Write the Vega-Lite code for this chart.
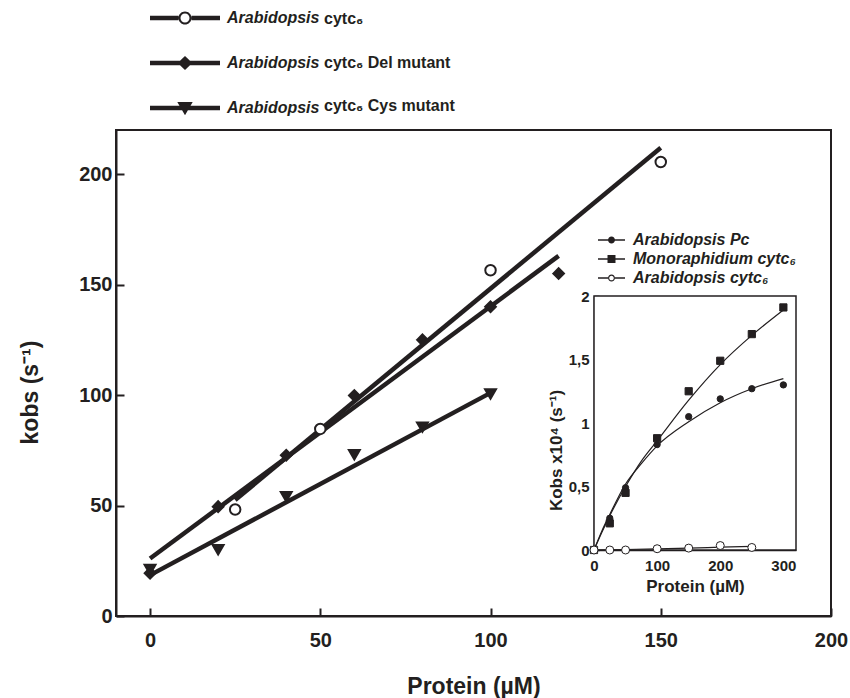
{
  "$schema": "https://vega.github.io/schema/vega-lite/v6.json",
  "width": 715,
  "height": 486,
  "autosize": {"type": "none"},
  "padding": {"left": 116, "top": 130, "right": 19, "bottom": 82},
  "background": "white",
  "config": {
    "font": "Liberation Sans",
    "view": {"stroke": "#231f20", "strokeWidth": 2},
    "axis": {"grid": false, "domainColor": "#231f20", "tickColor": "#231f20", "labelColor": "#231f20", "titleColor": "#231f20", "labelFont": "Liberation Sans", "titleFont": "Liberation Sans", "labelFontWeight": "bold", "titleFontWeight": "bold", "labelFlush": false, "labelOverlap": false},
    "legend": {"labelFont": "Liberation Sans", "labelFontWeight": "bold", "labelFontStyle": "italic", "labelColor": "#231f20", "labelLimit": 500}
  },
  "datasets": {
    "mainFit": [
      {"series": "Arabidopsis cytc6", "x": 25, "y": 52.5},
      {"series": "Arabidopsis cytc6", "x": 150, "y": 212},
      {"series": "Del mutant", "x": 0, "y": 26},
      {"series": "Del mutant", "x": 120, "y": 163},
      {"series": "Cys mutant", "x": 0, "y": 18.5},
      {"series": "Cys mutant", "x": 100, "y": 101}
    ],
    "mainPts": [
      {"series": "Arabidopsis cytc6", "x": 25, "y": 48.2},
      {"series": "Arabidopsis cytc6", "x": 50, "y": 84.7},
      {"series": "Arabidopsis cytc6", "x": 100, "y": 156.5},
      {"series": "Arabidopsis cytc6", "x": 150, "y": 205.5},
      {"series": "Del mutant", "x": 0, "y": 19.4},
      {"series": "Del mutant", "x": 20, "y": 49.5},
      {"series": "Del mutant", "x": 40, "y": 72.8},
      {"series": "Del mutant", "x": 60, "y": 99.8},
      {"series": "Del mutant", "x": 80, "y": 125},
      {"series": "Del mutant", "x": 100, "y": 140},
      {"series": "Del mutant", "x": 120, "y": 155},
      {"series": "Cys mutant", "x": 0, "y": 21},
      {"series": "Cys mutant", "x": 20, "y": 30},
      {"series": "Cys mutant", "x": 40, "y": 54},
      {"series": "Cys mutant", "x": 60, "y": 73},
      {"series": "Cys mutant", "x": 80, "y": 85.5},
      {"series": "Cys mutant", "x": 100, "y": 100.5}
    ],
    "mainLeg": [
      {"label": "Arabidopsis cytc₆"},
      {"label": "Arabidopsis cytc₆ Del mutant"},
      {"label": "Arabidopsis cytc₆ Cys mutant"}
    ],
    "insetBox": [
      {"x1": 0, "x2": 320, "y1": 0, "y2": 2}
    ],
    "insetFit": [
      {"series": "Pc", "x": 0, "y": 0},
      {"series": "Pc", "x": 12.5, "y": 0.15},
      {"series": "Pc", "x": 25, "y": 0.28},
      {"series": "Pc", "x": 50, "y": 0.52},
      {"series": "Pc", "x": 75, "y": 0.68},
      {"series": "Pc", "x": 100, "y": 0.82},
      {"series": "Pc", "x": 150, "y": 1.01},
      {"series": "Pc", "x": 200, "y": 1.16},
      {"series": "Pc", "x": 250, "y": 1.27},
      {"series": "Pc", "x": 300, "y": 1.35},
      {"series": "Mono", "x": 0, "y": 0},
      {"series": "Mono", "x": 12.5, "y": 0.14},
      {"series": "Mono", "x": 25, "y": 0.27},
      {"series": "Mono", "x": 50, "y": 0.5},
      {"series": "Mono", "x": 75, "y": 0.7},
      {"series": "Mono", "x": 100, "y": 0.86},
      {"series": "Mono", "x": 150, "y": 1.18},
      {"series": "Mono", "x": 200, "y": 1.46},
      {"series": "Mono", "x": 250, "y": 1.69},
      {"series": "Mono", "x": 300, "y": 1.89},
      {"series": "Cyt", "x": 0, "y": 0},
      {"series": "Cyt", "x": 50, "y": 0.004},
      {"series": "Cyt", "x": 100, "y": 0.009},
      {"series": "Cyt", "x": 150, "y": 0.015},
      {"series": "Cyt", "x": 200, "y": 0.022},
      {"series": "Cyt", "x": 250, "y": 0.028}
    ],
    "insetPts": [
      {"series": "Pc", "x": 0, "y": 0},
      {"series": "Pc", "x": 25, "y": 0.25},
      {"series": "Pc", "x": 50, "y": 0.49},
      {"series": "Pc", "x": 100, "y": 0.83},
      {"series": "Pc", "x": 150, "y": 1.05},
      {"series": "Pc", "x": 200, "y": 1.19},
      {"series": "Pc", "x": 250, "y": 1.27},
      {"series": "Pc", "x": 300, "y": 1.3},
      {"series": "Mono", "x": 0, "y": 0},
      {"series": "Mono", "x": 25, "y": 0.21},
      {"series": "Mono", "x": 50, "y": 0.45},
      {"series": "Mono", "x": 100, "y": 0.88},
      {"series": "Mono", "x": 150, "y": 1.25},
      {"series": "Mono", "x": 200, "y": 1.49},
      {"series": "Mono", "x": 250, "y": 1.7},
      {"series": "Mono", "x": 300, "y": 1.91},
      {"series": "Cyt", "x": 0, "y": 0},
      {"series": "Cyt", "x": 25, "y": 0.0},
      {"series": "Cyt", "x": 50, "y": 0.0},
      {"series": "Cyt", "x": 100, "y": 0.01},
      {"series": "Cyt", "x": 150, "y": 0.015},
      {"series": "Cyt", "x": 200, "y": 0.035},
      {"series": "Cyt", "x": 250, "y": 0.02}
    ],
    "insetLeg": [
      {"label": "Arabidopsis Pc"},
      {"label": "Monoraphidium cytc₆"},
      {"label": "Arabidopsis cytc₆"}
    ]
  },
  "layer": [
    {
      "layer": [
        {
          "data": {"name": "mainFit"},
          "mark": {"type": "line", "color": "#231f20", "strokeWidth": 4.5, "strokeCap": "butt"},
          "encoding": {
            "x": {"field": "x", "type": "quantitative", "title": "Protein (µM)",
              "scale": {"domain": [-10, 200], "nice": false, "zero": false},
              "axis": {"orient": "bottom", "values": [0, 50, 100, 150, 200], "tickSize": -8, "tickWidth": 2, "domainWidth": 2, "labelFontSize": 20, "labelPadding": 22, "titleFontSize": 23, "titleY": 77, "titleBaseline": "alphabetic"}},
            "y": {"field": "y", "type": "quantitative", "title": "kobs (s⁻¹)",
              "scale": {"domain": [0, 220], "nice": false, "zero": false},
              "axis": {"orient": "left", "values": [0, 50, 100, 150, 200], "tickSize": -8, "tickWidth": 2, "domainWidth": 2, "labelFontSize": 20, "labelPadding": 12, "titleFontSize": 23, "titleX": -74, "titleY": 262, "titleBaseline": "bottom"}},
            "detail": {"field": "series"}
          }
        },
        {
          "data": {"name": "mainPts"},
          "mark": {"type": "point", "stroke": "#231f20", "strokeWidth": 2, "opacity": 1},
          "encoding": {
            "x": {"field": "x", "type": "quantitative", "title": "Protein (µM)"},
            "y": {"field": "y", "type": "quantitative", "title": "kobs (s⁻¹)"},
            "shape": {"field": "series", "type": "nominal", "legend": null,
              "scale": {"domain": ["Arabidopsis cytc6", "Del mutant", "Cys mutant"], "range": ["circle", "diamond", "triangle-down"]}},
            "fill": {"field": "series", "type": "nominal", "legend": null,
              "scale": {"domain": ["Arabidopsis cytc6", "Del mutant", "Cys mutant"], "range": ["white", "#231f20", "#231f20"]}},
            "size": {"field": "series", "type": "nominal", "legend": null,
              "scale": {"domain": ["Arabidopsis cytc6", "Del mutant", "Cys mutant"], "range": [110, 120, 170]}}
          }
        },
        {
          "data": {"name": "mainLeg"},
          "mark": {"type": "point", "filled": true, "fill": "#231f20", "strokeWidth": 0, "opacity": 0},
          "encoding": {
            "shape": {"field": "label", "type": "nominal",
              "scale": {"domain": ["Arabidopsis cytc₆", "Arabidopsis cytc₆ Del mutant", "Arabidopsis cytc₆ Cys mutant"],
                "range": [
                  "M-1,-0.063L-0.186,-0.063L-0.186,0.063L-1,0.063Z M0.186,-0.063L1,-0.063L1,0.063L0.186,0.063Z M0.186,0A0.186,0.186 0 1,1 -0.186,0A0.186,0.186 0 1,1 0.186,0Z M0.129,0A0.129,0.129 0 1,0 -0.129,0A0.129,0.129 0 1,0 0.129,0Z",
                  "M-1,-0.063L1,-0.063L1,0.063L-1,0.063Z M-0.21,0L0,-0.2L0.21,0L0,0.2Z",
                  "M-1,-0.063L1,-0.063L1,0.063L-1,0.063Z M-0.22,-0.17L0.22,-0.17L0,0.21Z"
                ]},
              "legend": {"orient": "none", "legendX": 34, "legendY": -147, "title": null, "symbolSize": 4900, "symbolStrokeWidth": 0, "symbolOpacity": 1, "symbolFillColor": "#231f20", "labelFontSize": 16, "labelOffset": 7, "rowPadding": 2, "padding": 0, "symbolOffset": 0, "labelExpr": "'Arabidopsis'"}}
          }
        },
        {
          "data": {"name": "mainLeg"},
          "mark": {"type": "point", "opacity": 0},
          "encoding": {
            "size": {"field": "label", "type": "nominal",
              "scale": {"domain": ["Arabidopsis cytc₆", "Arabidopsis cytc₆ Del mutant", "Arabidopsis cytc₆ Cys mutant"], "range": [1, 1, 1]},
              "legend": {"orient": "none", "legendX": 192, "legendY": -119, "title": null, "symbolOpacity": 0, "symbolStrokeWidth": 0, "labelFontSize": 16, "labelFontStyle": "normal", "labelOffset": 0, "rowPadding": 27.5, "padding": 0, "symbolOffset": 0, "labelExpr": "replace(datum.label, 'Arabidopsis ', '')"}}
          }
        }
      ],
      "resolve": {"scale": {"shape": "independent", "fill": "independent", "size": "independent"}, "legend": {"shape": "independent", "size": "independent"}}
    },
    {
      "layer": [
        {
          "data": {"name": "insetBox"},
          "mark": {"type": "rect", "fill": "white", "stroke": "#231f20", "strokeWidth": 1.5},
          "encoding": {
            "x": {"field": "x1", "type": "quantitative", "title": "Protein (µM)",
              "scale": {"domain": [0, 320], "range": [478, 680], "nice": false, "zero": false},
              "axis": {"orient": "bottom", "offset": -66, "values": [0, 100, 200, 300], "tickSize": -5, "tickWidth": 1.5, "domainWidth": 1.5, "labelFontSize": 15, "labelPadding": 13, "titleFontSize": 17, "titleY": 41, "titleBaseline": "alphabetic"}},
            "x2": {"field": "x2"},
            "y": {"field": "y1", "type": "quantitative", "title": "Kobs x10⁴ (s⁻¹)",
              "scale": {"domain": [0, 2], "range": [420, 166], "nice": false, "zero": false},
              "axis": {"orient": "left", "offset": -478, "values": [0, 0.25, 0.5, 0.75, 1, 1.25, 1.5, 1.75, 2], "labelExpr": "datum.value % 0.5 == 0 ? replace(format(datum.value, '~g'), '.', ',') : ''", "tickSize": -5, "tickWidth": 1.5, "domainWidth": 1.5, "labelFontSize": 15, "labelPadding": 10, "titleFontSize": 17, "titleX": -29, "titleY": 320, "titleBaseline": "bottom"}},
            "y2": {"field": "y2"}
          }
        },
        {
          "data": {"name": "insetFit"},
          "mark": {"type": "line", "color": "#231f20", "strokeWidth": 1.2, "interpolate": "monotone"},
          "encoding": {
            "x": {"field": "x", "type": "quantitative", "title": "Protein (µM)"},
            "y": {"field": "y", "type": "quantitative", "title": "Kobs x10⁴ (s⁻¹)"},
            "detail": {"field": "series"}
          }
        },
        {
          "data": {"name": "insetPts"},
          "mark": {"type": "point", "stroke": "#231f20", "strokeWidth": 1, "opacity": 1},
          "encoding": {
            "x": {"field": "x", "type": "quantitative", "title": "Protein (µM)"},
            "y": {"field": "y", "type": "quantitative", "title": "Kobs x10⁴ (s⁻¹)"},
            "shape": {"field": "series", "type": "nominal", "legend": null,
              "scale": {"domain": ["Pc", "Mono", "Cyt"], "range": ["circle", "square", "circle"]}},
            "fill": {"field": "series", "type": "nominal", "legend": null,
              "scale": {"domain": ["Pc", "Mono", "Cyt"], "range": ["#231f20", "#231f20", "white"]}},
            "size": {"field": "series", "type": "nominal", "legend": null,
              "scale": {"domain": ["Pc", "Mono", "Cyt"], "range": [40, 64, 36]}}
          }
        },
        {
          "data": {"name": "insetLeg"},
          "mark": {"type": "point", "filled": true, "fill": "#231f20", "strokeWidth": 0, "opacity": 0},
          "encoding": {
            "shape": {"field": "label", "type": "nominal",
              "scale": {"domain": ["Arabidopsis Pc", "Monoraphidium cytc₆", "Arabidopsis cytc₆"],
                "range": [
                  "M-1.286,-0.076L1.286,-0.076L1.286,0.076L-1.286,0.076Z M0.333,0A0.333,0.333 0 1,1 -0.333,0A0.333,0.333 0 1,1 0.333,0Z",
                  "M-1.286,-0.076L1.286,-0.076L1.286,0.076L-1.286,0.076Z M-0.38,-0.38L0.38,-0.38L0.38,0.38L-0.38,0.38Z",
                  "M-1.286,-0.076L-0.333,-0.076L-0.333,0.076L-1.286,0.076Z M0.333,-0.076L1.286,-0.076L1.286,0.076L0.333,0.076Z M0.333,0A0.333,0.333 0 1,1 -0.333,0A0.333,0.333 0 1,1 0.333,0Z M0.22,0A0.22,0.22 0 1,0 -0.22,0A0.22,0.22 0 1,0 0.22,0Z"
                ]},
              "legend": {"orient": "none", "legendX": 482, "legendY": 99.5, "title": null, "symbolSize": 441, "symbolStrokeWidth": 0, "symbolOpacity": 1, "symbolFillColor": "#231f20", "labelFontSize": 16, "labelOffset": 11, "rowPadding": 0, "padding": 0, "symbolOffset": 3}}
          }
        }
      ],
      "resolve": {"scale": {"shape": "independent", "fill": "independent", "size": "independent"}, "legend": {"shape": "independent"}}
    }
  ],
  "resolve": {
    "scale": {"x": "independent", "y": "independent", "shape": "independent", "fill": "independent", "size": "independent"},
    "axis": {"x": "independent", "y": "independent"},
    "legend": {"shape": "independent", "size": "independent"}
  }
}
